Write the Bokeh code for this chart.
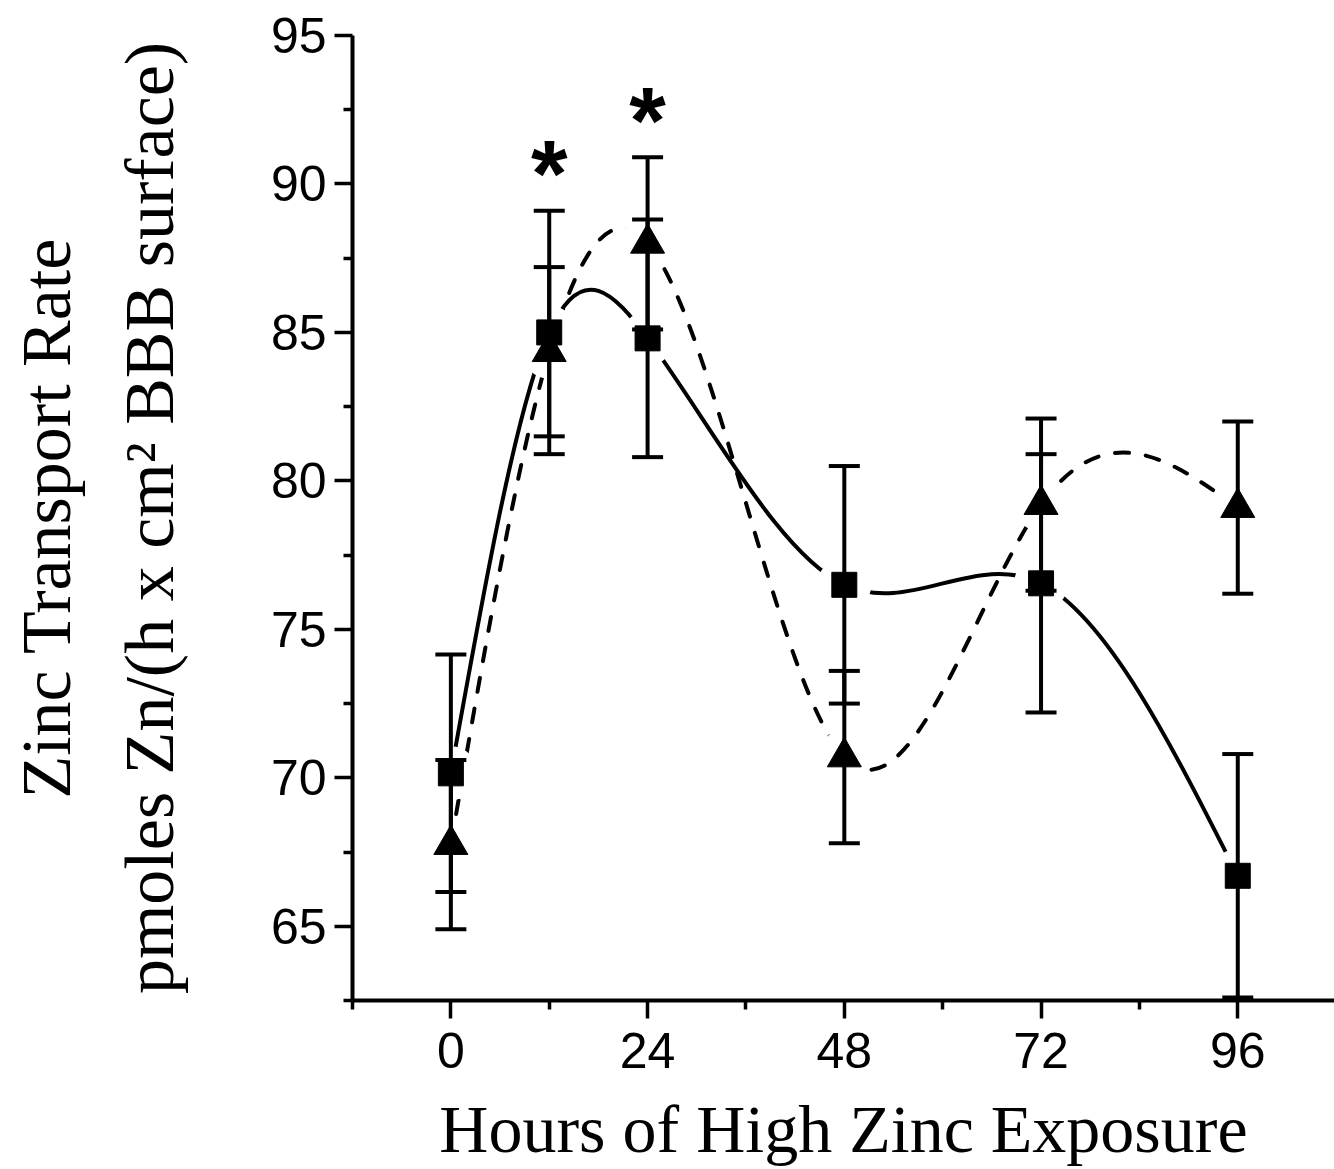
import numpy as np
from bokeh.plotting import figure
from bokeh.models import FixedTicker, Range1d
from bokeh.core.properties import value
from bokeh.embed import file_html
from bokeh.resources import INLINE

# ---- data ----
hours = [0, 12, 24, 48, 72, 96]
sq_mean = [70.15, 85.0, 84.8, 76.5, 76.55, 66.7]
sq_err = [4.0, 4.1, 4.0, 4.0, 4.35, 4.1]
tri_mean = [67.75, 84.35, 88.0, 70.7, 79.2, 79.1]
tri_err = [2.85, 2.85, 2.9, 2.9, 2.9, 2.9]
star_hours = [12, 24]
star_base = [89.1, 90.9]
x_major = [0, 24, 48, 72, 96]
x_minor = [-12, 12, 36, 60, 84, 108]
y_major = [65, 70, 75, 80, 85, 90, 95]
y_minor = [62.5, 67.5, 72.5, 77.5, 82.5, 87.5, 92.5]


def spline_bezier(xs, ys):
    """Natural cubic spline through the points, as cubic Bezier control points."""
    x = np.asarray(xs, float)
    y = np.asarray(ys, float)
    n = len(x)
    h = np.diff(x)
    A = np.zeros((n, n))
    b = np.zeros(n)
    A[0, 0] = 1
    A[-1, -1] = 1
    for i in range(1, n - 1):
        A[i, i - 1] = h[i - 1]
        A[i, i] = 2 * (h[i - 1] + h[i])
        A[i, i + 1] = h[i]
        b[i] = 6 * ((y[i + 1] - y[i]) / h[i] - (y[i] - y[i - 1]) / h[i - 1])
    M = np.linalg.solve(A, b)
    m = np.zeros(n)
    for i in range(n - 1):
        m[i] = (y[i + 1] - y[i]) / h[i] - h[i] * (2 * M[i] + M[i + 1]) / 6
    m[-1] = (y[-1] - y[-2]) / h[-1] + h[-1] * (M[-2] + 2 * M[-1]) / 6
    return dict(
        x0=x[:-1], y0=y[:-1], x1=x[1:], y1=y[1:],
        cx0=x[:-1] + h / 3, cy0=y[:-1] + m[:-1] * h / 3,
        cx1=x[1:] - h / 3, cy1=y[1:] - m[1:] * h / 3,
    )


p = figure(
    width=1334, height=1169,
    x_range=Range1d(-12, 107.8), y_range=Range1d(62.5, 95),
    output_backend="svg", toolbar_location=None,
    min_border_left=352, min_border_right=0, min_border_top=35, min_border_bottom=166,
)
p.outline_line_color = None
p.grid.visible = False
p.background_fill_color = "white"

# curves
sq_curve = spline_bezier(hours, sq_mean)
tri_curve = spline_bezier(hours, tri_mean)
p.bezier(line_color="black", line_width=4, line_cap="round", **sq_curve)
p.bezier(line_color="black", line_width=4, line_cap="round", line_dash="14 17", **tri_curve)

# gaps around symbols
p.scatter(hours, sq_mean, marker="circle", size=54, fill_color="white", line_color=None)
p.scatter(hours, tri_mean, marker="circle", size=54, fill_color="white", line_color=None)

# error bars
for mean, err in ((sq_mean, sq_err), (tri_mean, tri_err)):
    lo = [m - e for m, e in zip(mean, err)]
    hi = [m + e for m, e in zip(mean, err)]
    p.segment(x0=hours, y0=lo, x1=hours, y1=hi, line_color="black", line_width=4)
    p.scatter(hours, lo, marker="dash", size=31, line_color="black", line_width=4)
    p.scatter(hours, hi, marker="dash", size=31, line_color="black", line_width=4)

# symbols
p.scatter(hours, sq_mean, marker="square", size=25, fill_color="black", line_color="black", line_width=1)
p.scatter(hours, tri_mean, marker="triangle", size=34, fill_color="black", line_color="black", line_width=1)

# significance stars
p.text(x=star_hours, y=star_base, text=["*", "*"], text_font=value("Liberation Sans"),
       text_font_style="bold", text_font_size="94px", text_align="center",
       text_baseline="alphabetic", y_offset=-37, text_color="black")

# axes
for ax in (p.xaxis[0], p.yaxis[0]):
    ax.axis_line_width = 4
    ax.major_tick_line_width = 3.5
    ax.minor_tick_line_width = 3.5
    ax.major_tick_in = 0
    ax.minor_tick_in = 0
    ax.major_tick_out = 18
    ax.minor_tick_out = 9
    ax.major_label_text_font = "Liberation Sans"
    ax.major_label_text_font_size = "50px"
    ax.major_label_text_color = "black"
    ax.axis_label_text_font = "Liberation Serif"
    ax.axis_label_text_font_style = "normal"
    ax.axis_label_text_color = "black"

p.xaxis.axis_label_text_font_size = "68px"
p.yaxis.axis_label_text_font_size = "70px"
p.xaxis.ticker = FixedTicker(ticks=x_major, minor_ticks=x_minor)
p.yaxis.ticker = FixedTicker(ticks=y_major, minor_ticks=y_minor)
p.xaxis.major_label_standoff = 14
p.yaxis.major_label_standoff = 8
p.xaxis.axis_label = "Hours of High Zinc Exposure"
p.yaxis.axis_label = "Zinc Transport Rate\npmoles Zn/(h x cm\u00b2 BBB surface)"
p.yaxis.axis_label_text_line_height = 1.34
p.xaxis.axis_label_standoff = 20
p.yaxis.axis_label_standoff = 80

open("out.html", "w").write(file_html(p, INLINE))
